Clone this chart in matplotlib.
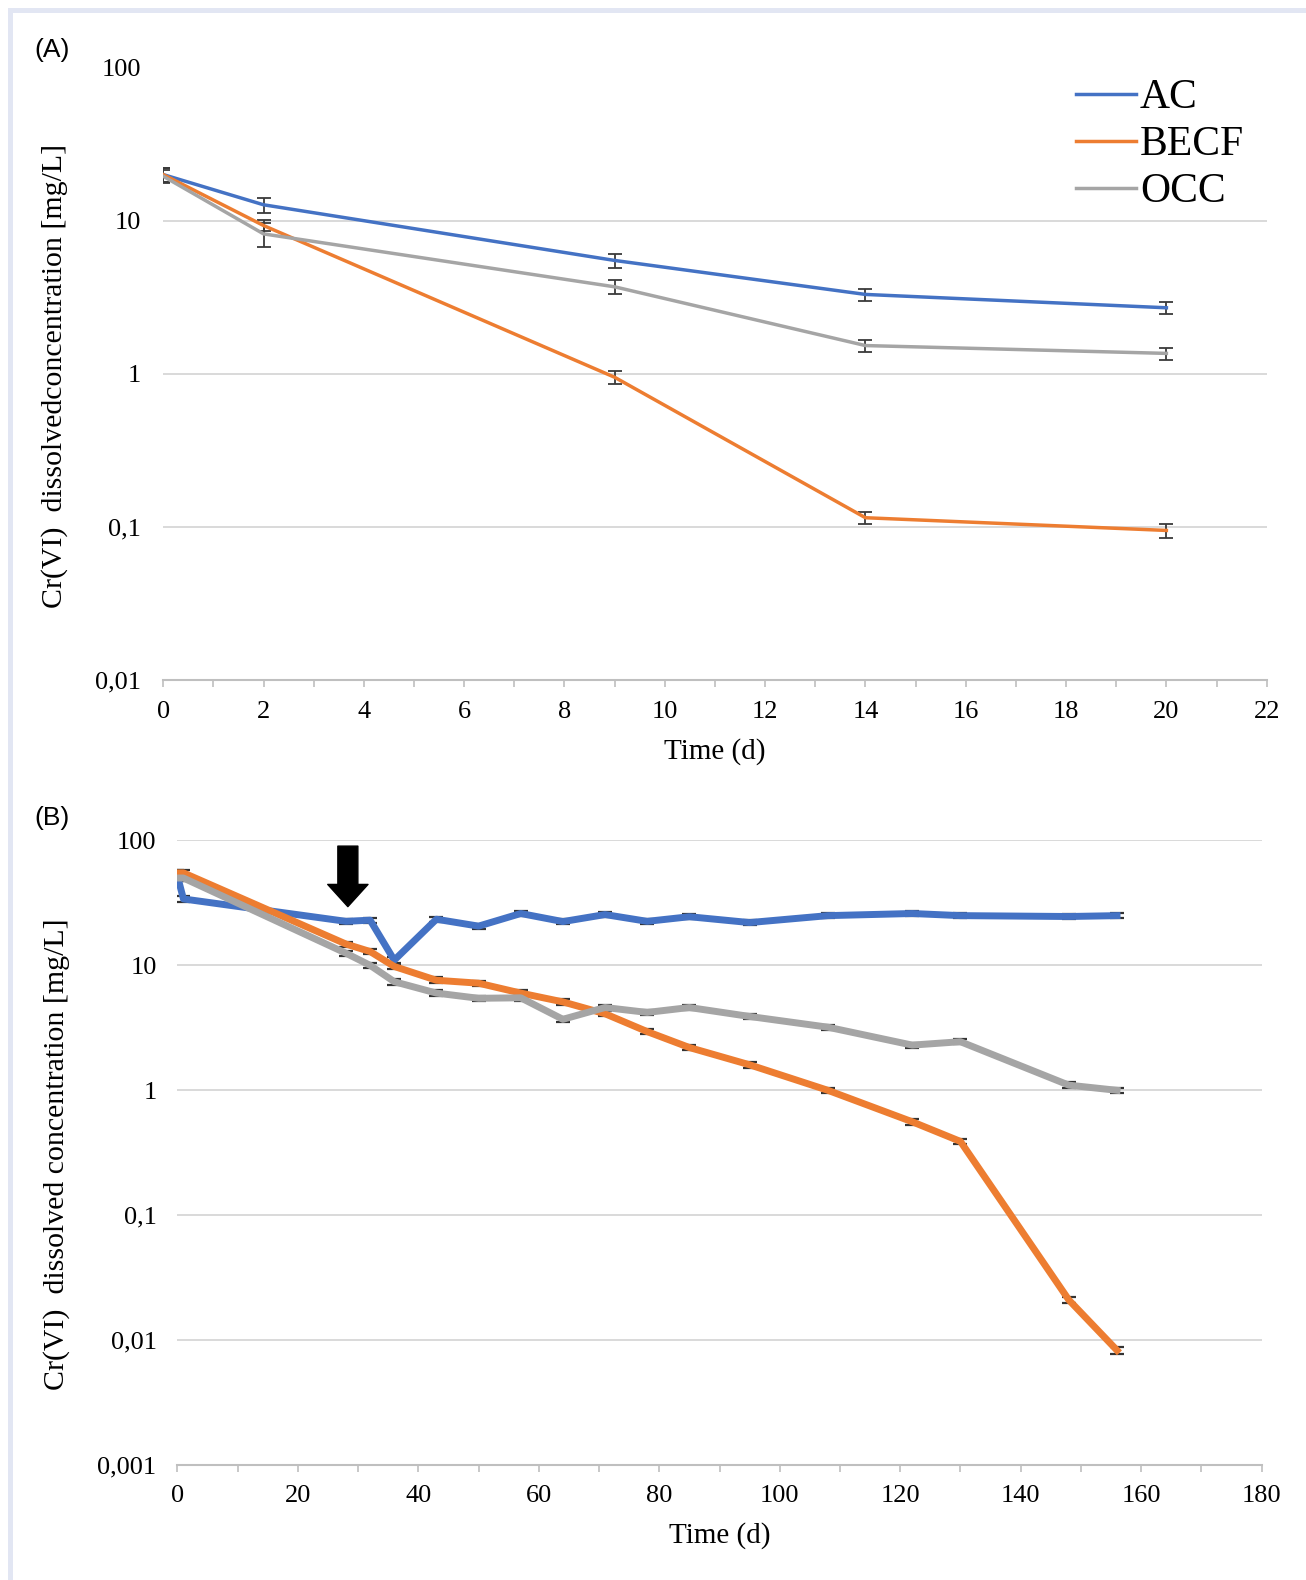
import matplotlib.pyplot as plt
from matplotlib.patches import Rectangle
from matplotlib.ticker import FixedLocator, MultipleLocator

# panel A: first 20 days
days_a = [0, 2, 9, 14, 20]
ac_a = [20, 12.7, 5.5, 3.3, 2.7]
becf_a = [20, 9.3, 0.95, 0.115, 0.095]
occ_a = [19.5, 8.2, 3.7, 1.53, 1.36]
ac_a_err = [2.0, 1.4, 0.6, 0.3, 0.25]
becf_a_err = [2.0, 0.8, 0.09, 0.011, 0.01]
occ_a_err = [2.0, 1.5, 0.4, 0.14, 0.12]

# panel B: long run
days_b = [0, 1, 28, 32, 36, 43, 50, 57, 64, 71, 78, 85, 95, 108, 122, 130, 148, 156]
ac_b = [52, 34, 22.5, 23, 11, 23.4, 20.6, 26, 22.4, 25.5, 22.5, 24.5, 22, 25, 26, 25, 24.6, 25]
becf_b = [55, 55, 14.8, 12.9, 9.8, 7.6, 7.2, 6.0, 5.1, 4.1, 2.95, 2.2, 1.6, 1.0, 0.56, 0.39, 0.021, 0.0083]
occ_b = [50, 50, 12.5, 10, 7.4, 6.0, 5.45, 5.5, 3.7, 4.6, 4.2, 4.6, 3.9, 3.2, 2.3, 2.45, 1.1, 1.0]
ac_b_err = [2.5, 1.7, 1.1, 1.1, 0.6, 1.1, 1.0, 1.3, 1.1, 1.3, 1.1, 1.2, 1.1, 1.2, 1.3, 1.2, 1.2, 1.2]
becf_b_err = [2.7, 2.7, 0.7, 0.6, 0.5, 0.4, 0.35, 0.3, 0.25, 0.2, 0.15, 0.11, 0.08, 0.05, 0.03, 0.02, 0.0012, 0.0005]
occ_b_err = [2.5, 2.5, 0.6, 0.5, 0.4, 0.3, 0.27, 0.27, 0.18, 0.23, 0.2, 0.23, 0.19, 0.16, 0.11, 0.12, 0.055, 0.05]

yticks_a = [0.01, 0.1, 1, 10, 100]
yticklabels_a = ['0,01', '0,1', '1', '10', '100']
yticks_b = [0.001, 0.01, 0.1, 1, 10, 100]
yticklabels_b = ['0,001', '0,01', '0,1', '1', '10', '100']

series_names = ['AC', 'BECF', 'OCC']
colors = ['#4472C4', '#ED7D31', '#A5A5A5']

W, H = 1306, 1580
SERIF = 'Liberation Serif'
GRID = '#d9d9d9'
AXIS = '#bfbfbf'


def style_axes(ax, xmax, xmajor, xminor, yticks, yticklabels):
    ax.set_yscale('log')
    ax.set_ylim(yticks[0], yticks[-1])
    ax.yaxis.set_major_locator(FixedLocator(yticks))
    ax.set_yticklabels(yticklabels)
    ax.yaxis.set_minor_locator(FixedLocator([]))
    ax.set_xlim(0, xmax)
    ax.xaxis.set_major_locator(MultipleLocator(xmajor))
    ax.xaxis.set_minor_locator(MultipleLocator(xminor))
    for side in ['left', 'right', 'top']:
        ax.spines[side].set_visible(False)
    ax.spines['bottom'].set_color(AXIS)
    ax.spines['bottom'].set_linewidth(1.5)
    ax.grid(axis='y', color=GRID, linewidth=1.4)
    ax.set_axisbelow(True)
    ax.tick_params(axis='y', length=0, pad=16, labelsize=19)
    ax.tick_params(axis='x', which='both', direction='out', length=5, width=1.2,
                   color=AXIS, pad=10, labelsize=19)
    for lab in ax.get_xticklabels() + ax.get_yticklabels():
        lab.set_fontfamily(SERIF)


fig = plt.figure(figsize=(W / 100, H / 100), dpi=100)

# panel A
ax_a = fig.add_axes([163.2 / W, 1 - 680.2 / H, 1103.5 / W, 612.7 / H])
for vals, errs, name, col in zip([ac_a, becf_a, occ_a], [ac_a_err, becf_a_err, occ_a_err],
                                 series_names, colors):
    ax_a.errorbar(days_a, vals, yerr=errs, color=col, lw=2.5, label=name,
                  ecolor='#3a3a3a', elinewidth=1.3, capsize=5, capthick=1.3)
style_axes(ax_a, 22, 2, 1, yticks_a, yticklabels_a)
ax_a.set_xlabel('Time (d)', fontfamily=SERIF, fontsize=21, labelpad=11)
handles = [plt.Line2D([], [], color=c, lw=2.5) for c in colors]
ax_a.legend(handles, series_names, loc='upper left', bbox_to_anchor=(1076 / W, 1 - 79 / H),
            bbox_transform=fig.transFigure, frameon=False, borderpad=0, borderaxespad=0,
            handlelength=1.45, handletextpad=0.08, labelspacing=0.2,
            prop={'family': SERIF, 'size': 30})

# panel B
ax_b = fig.add_axes([177.4 / W, 1 - 1465.2 / H, 1084.2 / W, 624.8 / H])
for vals, errs, name, col in zip([ac_b, becf_b, occ_b], [ac_b_err, becf_b_err, occ_b_err],
                                 series_names, colors):
    ax_b.errorbar(days_b, vals, yerr=errs, color=col, lw=5, label=name,
                  ecolor='#333333', elinewidth=1.2, capsize=5, capthick=1.6)
style_axes(ax_b, 180, 20, 10, yticks_b, yticklabels_b)
ax_b.tick_params(axis='y', pad=15)
ax_b.tick_params(axis='x', which='both', pad=9)
ax_b.set_xlabel('Time (d)', fontfamily=SERIF, fontsize=21, labelpad=11)

# addition marker arrow
ax_b.annotate('', xy=(28.3, 29.5), xytext=(28.3, 90),
              arrowprops=dict(arrowstyle='simple,head_length=0.8,head_width=1.45,tail_width=0.72',
                              color='black', shrinkA=0, shrinkB=0, mutation_scale=20))

# y labels and panel letters
fig.text(55 / W, 1 - 375.5 / H, 'Cr(VI)  dissolvedconcentration [mg/L]', rotation=90,
         ha='center', va='center', fontfamily=SERIF, fontsize=21.5)
fig.text(57 / W, 1 - 1154 / H, 'Cr(VI)  dissolved concentration [mg/L]', rotation=90,
         ha='center', va='center', fontfamily=SERIF, fontsize=21.5)
fig.text(34 / W, 1 - 50 / H, '(A)', ha='left', va='center', fontfamily='Liberation Sans', fontsize=19)
fig.text(34 / W, 1 - 818 / H, '(B)', ha='left', va='center', fontfamily='Liberation Sans', fontsize=19)

# light frame around the figure
fig.patches.append(Rectangle((9.5 / W, -0.1), 1.2, 1.1 - 9.5 / H, transform=fig.transFigure,
                             fill=False, edgecolor='#e2e6f3', linewidth=3.6))

fig.savefig('out.png', dpi=100)
